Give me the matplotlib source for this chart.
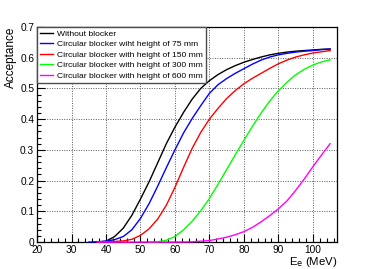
import numpy as np
import matplotlib
matplotlib.use("Agg")
import matplotlib.pyplot as plt
from matplotlib.ticker import MultipleLocator

plt.rcParams['font.family'] = ['Liberation Sans', 'DejaVu Sans']

# beam energy grid (MeV)
energy = [35, 37.5, 40, 42.5, 45, 47.5, 50, 52.5, 55, 57.5, 60, 62.5, 65, 67.5,
          70, 72.5, 75, 77.5, 80, 82.5, 85, 87.5, 90, 92.5, 95, 97.5, 100, 102.5, 105]

# acceptance
no_blocker = [np.nan, 0.0, 0.003, 0.018, 0.045, 0.087, 0.14, 0.196, 0.258, 0.32,
              0.374, 0.422, 0.465, 0.5, 0.525, 0.545, 0.561, 0.574, 0.585, 0.594,
              0.602, 0.609, 0.614, 0.618, 0.621, 0.623, 0.625, 0.627, 0.628]
h75 = [0.0, 0.001, 0.003, 0.008, 0.018, 0.04, 0.077, 0.125, 0.182, 0.242,
       0.3, 0.355, 0.402, 0.444, 0.484, 0.512, 0.532, 0.549, 0.564, 0.579,
       0.592, 0.602, 0.609, 0.614, 0.618, 0.621, 0.623, 0.626, 0.628]
h150 = [np.nan, 0.0, 0.001, 0.002, 0.004, 0.009, 0.022, 0.043, 0.075, 0.12,
        0.178, 0.243, 0.305, 0.357, 0.4, 0.435, 0.467, 0.493, 0.515, 0.533,
        0.549, 0.565, 0.58, 0.592, 0.602, 0.609, 0.615, 0.619, 0.623]
h300 = [np.nan, np.nan, np.nan, np.nan, np.nan, np.nan, np.nan, 0.0, 0.001, 0.006,
        0.018, 0.04, 0.068, 0.102, 0.142, 0.188, 0.236, 0.284, 0.331, 0.377,
        0.42, 0.459, 0.492, 0.52, 0.544, 0.562, 0.576, 0.586, 0.593]
h600 = [np.nan, 0.0, 0.0, 0.0, 0.0, 0.0, 0.0, 0.0, 0.0, 0.0,
        0.0, 0.0003, 0.001, 0.003, 0.005, 0.01, 0.016, 0.024, 0.034, 0.048,
        0.066, 0.086, 0.108, 0.134, 0.168, 0.205, 0.245, 0.283, 0.32]

labels = ["Without blocker",
          "Circular blocker wiht height of 75 mm",
          "Circular blocker with height of 150 mm",
          "Circular blocker with height of 300 mm",
          "Circular blocker with height of 600 mm"]
colors = ["black", "#0000ff", "#ff0000", "#00ff00", "#ff00ff"]

fig = plt.figure(figsize=(3.74, 2.69), dpi=100)
ax = fig.add_axes([0.099, 0.1, 0.802, 0.8])

for ys, lab, c in zip([no_blocker, h75, h150, h300, h600], labels, colors):
    ax.plot(energy, ys, color=c, lw=1.0, label=lab, clip_on=False, zorder=3,
            solid_joinstyle='round')

ax.set_xlim(20, 107)
ax.set_ylim(0, 0.7)
ax.xaxis.set_minor_locator(MultipleLocator(2))
ax.yaxis.set_minor_locator(MultipleLocator(0.02))
ax.set_xticks(np.arange(20, 101, 10))
ax.set_xticklabels([str(v) for v in range(20, 101, 10)])
ax.set_yticks(np.arange(0, 0.71, 0.1))
ax.set_yticklabels(["0"] + ["%.1f" % v for v in np.arange(0.1, 0.71, 0.1)])

ax.tick_params(which='both', direction='in', top=False, right=False,
               labelsize=7.3, colors='black', pad=2)
ax.tick_params(which='major', length=6, width=0.8)
ax.tick_params(which='minor', length=3, width=0.8)
ax.grid(True, which='major', color='0.35', linestyle=(0, (1, 1.5)), lw=0.7)
for s in ax.spines.values():
    s.set_linewidth(0.9)

ax.set_ylabel("Acceptance", fontsize=8.5, loc='top', labelpad=2)
ax.set_xlabel(r"E$_{\mathrm{e}}$ (MeV)", fontsize=8.2, loc='right')
ax.xaxis.set_label_coords(1.0, -0.06)

leg = ax.legend(loc='upper left', bbox_to_anchor=(0, 1), borderaxespad=0,
                fontsize=6.1, frameon=True, fancybox=False, framealpha=1,
                edgecolor='0.3', handlelength=1.5, handletextpad=0.5,
                labelspacing=0.3, borderpad=0.35)
leg.get_frame().set_linewidth(1.0)
leg.set_zorder(5)

fig.savefig("out.png", dpi=100)
